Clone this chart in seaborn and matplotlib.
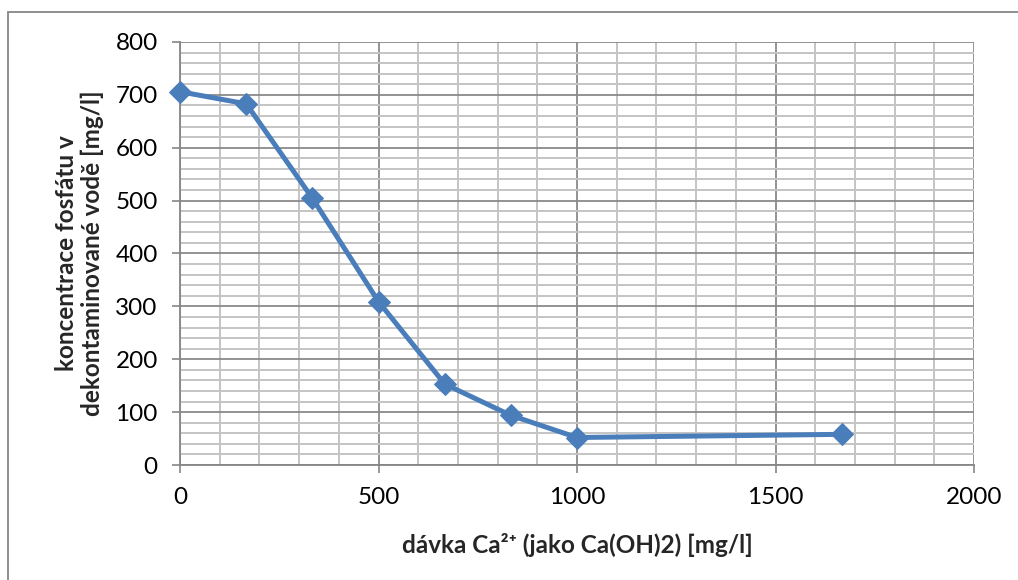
import matplotlib
matplotlib.use("Agg")
import matplotlib.pyplot as plt
from matplotlib.ticker import MultipleLocator
from matplotlib.patches import Rectangle
import pandas as pd
import seaborn as sns

# data
davka = [0, 167, 333, 500, 667, 833, 1000, 1667]
koncentrace = [706, 683, 505, 309, 153, 94, 52, 58]

df = pd.DataFrame({"davka": davka, "koncentrace": koncentrace})

sns.set_theme(style="white")
plt.rcParams["font.family"] = ["Lato", "DejaVu Sans"]

fig = plt.figure(figsize=(10.18, 5.80), dpi=100)
ax = fig.add_axes([180 / 1018, 1 - 465 / 580, (974 - 180) / 1018, (465 - 42) / 580])

# outer chart border (Excel style)
fig.patches.append(Rectangle((8 / 1018, -0.1), 1.2, 1 - 12 / 580 + 0.1,
                             transform=fig.transFigure, fill=False,
                             edgecolor="#868686", linewidth=1.3, zorder=0))

# grid
ax.xaxis.set_major_locator(MultipleLocator(500))
ax.xaxis.set_minor_locator(MultipleLocator(100))
ax.yaxis.set_major_locator(MultipleLocator(100))
ax.yaxis.set_minor_locator(MultipleLocator(20))
ax.grid(which="minor", color="#c4c4c4", linewidth=1.4)
ax.grid(which="major", color="#8a8a8a", linewidth=1.3)
ax.set_axisbelow(True)

sns.lineplot(data=df, x="davka", y="koncentrace", ax=ax, color="#4a7ebb",
             linewidth=3.6, marker="D", markersize=11, markeredgecolor="#4a7ebb",
             zorder=5, clip_on=False)

ax.set_xlim(0, 2000)
ax.set_ylim(0, 800)

for side in ["left", "bottom"]:
    ax.spines[side].set_color("#868686")
    ax.spines[side].set_linewidth(1.3)
for side in ["top", "right"]:
    ax.spines[side].set_visible(False)

ax.tick_params(which="major", direction="out", length=6, width=1.2, color="#868686",
               labelsize=17.5, labelcolor="black", left=True, bottom=True, pad=10)
ax.tick_params(which="minor", length=0)

ax.set_xlabel("dávka Ca²⁺ (jako Ca(OH)2) [mg/l]", fontsize=17.5,
              fontweight="bold", labelpad=18)
ax.set_ylabel("koncentrace fosfátu v\ndekontaminované vodě [mg/l]", fontsize=17.5,
              fontweight="bold", labelpad=8, linespacing=1.15)

fig.savefig("out.png", dpi=100)
